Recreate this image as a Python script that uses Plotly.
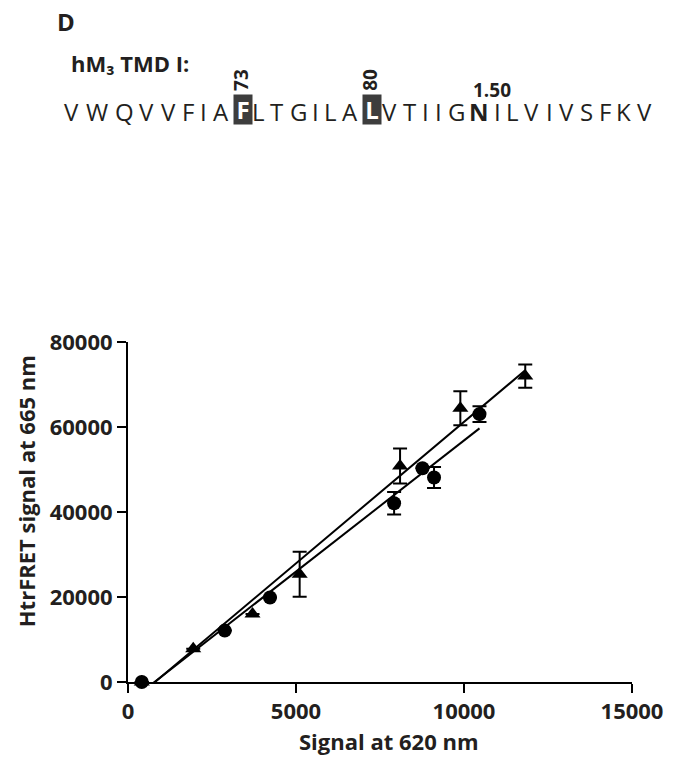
import plotly.graph_objects as go

# ---------------- data ----------------
sequence = list("VWQVVFIAFLTGILALVTIIGNILVIVSFKV")
highlight_labels = {8: "73", 15: "80"}      # residues shown inverted
bw_label = {21: "1.50"}                      # Ballesteros-Weinstein position
panel_label = "D"
seq_title = "hM₃ TMD I:"

circ_x = [410, 2880, 4226, 7920, 8764, 9108, 10461]
circ_y = [0, 12100, 19900, 42050, 50300, 48120, 63030]
circ_err = [None, None, None, 2650, None, 2470, 1850]

tri_x = [410, 1941, 3706, 5109, 8097, 9891, 11823]
tri_y = [0, 7800, 16000, 25360, 50800, 64400, 71980]
tri_err = [None, None, None, 5300, 4120, 4000, 2720]

fit_tri = (6.656, -5358)    # slope, intercept
fit_circ = (6.17, -4874)

x_ticks = [0, 5000, 10000, 15000]
x_ticktext = ["0", "5000", "10000", "15000"]
y_ticks = [0, 20000, 40000, 60000, 80000]
y_ticktext = ["0", "20000", "40000", "60000", "80000"]

x_title = "Signal at 620 nm"
y_title = "HtrFRET signal at 665 nm"

# ---------------- layout helpers ----------------
W, H = 675, 763
ML, MR, MT, MB = 128, 37, 342, 81
PW, PH = W - ML - MR, H - MT - MB
FONT = "Open Sans"
INK = "#231f20"


def pxx(x):
    return (x - ML) / PW


def pxy(y):
    return (H - MB - y) / PH


fig = go.Figure()


def fit_line(xs, fit):
    x0, x1 = min(xs), max(xs)
    m, b = fit
    return [x0, x1], [m * x0 + b, m * x1 + b]


lx, ly = fit_line(tri_x, fit_tri)
fig.add_trace(go.Scatter(x=lx, y=ly, mode="lines", line=dict(color="black", width=2), showlegend=False))
lx, ly = fit_line(circ_x, fit_circ)
fig.add_trace(go.Scatter(x=lx, y=ly, mode="lines", line=dict(color="black", width=2), showlegend=False))

fig.add_trace(go.Scatter(
    x=tri_x, y=tri_y, mode="markers", cliponaxis=False, showlegend=False,
    marker=dict(symbol="triangle-up", size=14, color="black"),
    error_y=dict(type="data", array=tri_err, visible=True, color="black", thickness=2, width=7),
))
fig.add_trace(go.Scatter(
    x=circ_x, y=circ_y, mode="markers", cliponaxis=False, showlegend=False,
    marker=dict(symbol="circle", size=14, color="black"),
    error_y=dict(type="data", array=circ_err, visible=True, color="black", thickness=2, width=7),
))

axis_common = dict(
    showline=True, linecolor="black", linewidth=2, showgrid=False, zeroline=False,
    ticks="outside", ticklen=9, tickwidth=2, tickcolor="black",
    tickfont=dict(family=FONT, size=22, color=INK, weight="bold"),
)
fig.update_xaxes(range=[0, 15000], tickvals=x_ticks, ticktext=x_ticktext, **axis_common)
fig.update_yaxes(range=[0, 80000], tickvals=y_ticks, ticktext=y_ticktext, **axis_common)

ann = []


def add_text(text, x, y, size, xanchor="center", yanchor="middle", bold=False, angle=0,
             color=INK, **kw):
    ann.append(dict(
        text=text, x=pxx(x), y=pxy(y), xref="paper", yref="paper", showarrow=False,
        xanchor=xanchor, yanchor=yanchor, textangle=angle,
        font=dict(family=FONT, size=size, color=color, weight="bold" if bold else "normal"),
        **kw))


add_text(panel_label, 54, 21.5, 24, xanchor="left", bold=True)
add_text(seq_title, 68, 63, 22, xanchor="left", bold=True)

# letter placement based on the proportional spacing of the original typeface
adv = dict(V=0.579, W=0.890, Q=0.662, F=0.459, I=0.252, A=0.579, L=0.420, T=0.487,
           G=0.631, N=0.646, S=0.459, K=0.520)
space = 0.226
em = 27.1
x_left = 63.0
seq_y = 111.5
for i, ch in enumerate(sequence):
    cx = x_left + em * adv[ch] / 2
    if i in highlight_labels:
        ann.append(dict(
            text="<b>%s</b>" % ch, x=pxx(cx + 2), y=pxy(109.5), xref="paper", yref="paper",
            showarrow=False, xanchor="center", yanchor="middle", width=18, height=29,
            bgcolor="#3d3d3d", borderpad=0,
            font=dict(family=FONT, size=24, color="white")))
        add_text(highlight_labels[i], cx, 80, 19, bold=True, angle=-90)
    elif i in bw_label:
        add_text(ch, cx, seq_y, 24, bold=True)
        add_text(bw_label[i], x_left, 90, 19, xanchor="left", bold=True)
    else:
        add_text(ch, cx, seq_y, 24)
    x_left += em * (adv[ch] + space)

add_text(x_title, 392, 741, 22, bold=True)
add_text(y_title, 25, 491, 22, bold=True, angle=-90)

fig.update_layout(
    width=W, height=H, margin=dict(l=ML, r=MR, t=MT, b=MB, pad=0),
    paper_bgcolor="white", plot_bgcolor="white", annotations=ann, showlegend=False,
)

fig.write_html("out.html")
